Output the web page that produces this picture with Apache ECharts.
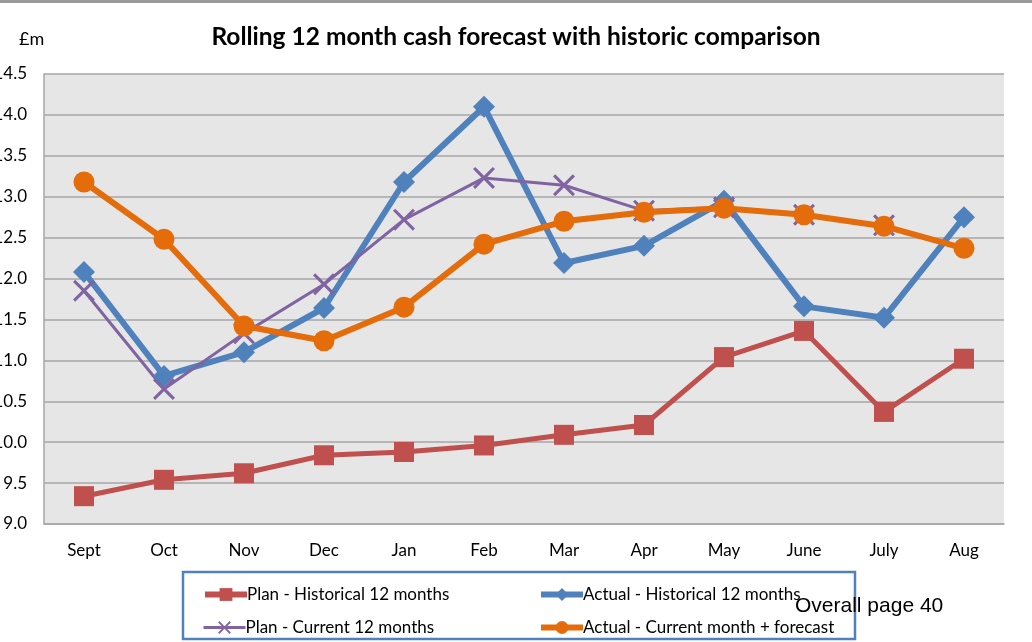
<!DOCTYPE html>
<html style="height: 100%">
<head>
    <meta charset="utf-8">
</head>
<body style="height: 100%; margin: 0; background-color: #fff">
<div id="container" style="height: 642px; width: 1032px"></div>
<script type="text/javascript" src="https://cdn.jsdelivr.net/npm/echarts@6/dist/echarts.min.js"></script>
<script type="text/javascript">
var months = ['Sept', 'Oct', 'Nov', 'Dec', 'Jan', 'Feb', 'Mar', 'Apr', 'May', 'June', 'July', 'Aug'];
var planHistorical = [9.34, 9.54, 9.62, 9.84, 9.88, 9.96, 10.09, 10.21, 11.04, 11.36, 10.37, 11.02];
var actualHistorical = [12.08, 10.81, 11.10, 11.64, 13.18, 14.10, 12.19, 12.40, 12.95, 11.66, 11.52, 12.75];
var planCurrent = [11.85, 10.65, 11.33, 11.93, 12.72, 13.23, 13.14, 12.83, 12.87, 12.78, 12.65, null];
var actualCurrent = [13.18, 12.48, 11.42, 11.24, 11.65, 12.42, 12.70, 12.81, 12.86, 12.78, 12.64, 12.37];
var seriesNames = ['Plan - Historical 12 months', 'Actual - Historical 12 months',
                   'Plan - Current 12 months', 'Actual - Current month + forecast'];

var dom = document.getElementById('container');
var myChart = echarts.init(dom);
var font = 'Lato, "Open Sans", sans-serif';
// X shaped marker as a filled path
var cross = 'path://M0,1 L1,0 L5,4 L9,0 L10,1 L6,5 L10,9 L9,10 L5,6 L1,10 L0,9 L4,5 Z';

function legendAt(name, left, top, lw) {
    return {
        data: [name],
        left: left,
        top: top,
        itemWidth: 42,
        itemHeight: 16,
        itemGap: 0,
        lineStyle: { width: lw },
        textStyle: { fontFamily: font, fontSize: 17, color: '#000', padding: [0, 0, 0, -5] }
    };
}

var option = {
    animation: false,
    title: {
        text: 'Rolling 12 month cash forecast with historic comparison',
        left: 'center',
        top: 20,
        textStyle: { fontFamily: font, fontSize: 24.5, fontWeight: 'bold', color: '#000' }
    },
    legend: [
        legendAt(seriesNames[0], 197, 581, 6),
        legendAt(seriesNames[1], 533, 581, 6),
        legendAt(seriesNames[2], 197, 614, 3),
        legendAt(seriesNames[3], 533, 614, 6)
    ],
    graphic: [
        { type: 'rect', shape: { x: 183, y: 572, width: 672, height: 67 },
          style: { fill: 'none', stroke: '#4F81BD', lineWidth: 2.5 }, z: 0 },
        { type: 'rect', shape: { x: 0, y: 0, width: 1032, height: 3 },
          style: { fill: '#9a9a9a' } },
        { type: 'text', left: 19, top: 30,
          style: { text: '£m', font: '18px ' + font, fill: '#000' } },
        { type: 'text', left: 795, top: 596, z: 100,
          style: { text: 'Overall page 40', font: '21px "Liberation Sans", Arial, sans-serif', fill: '#000' } }
    ],
    grid: {
        left: 44, right: 28, top: 74, bottom: 118,
        outerBoundsMode: 'none',
        containLabel: false,
        show: true, backgroundColor: '#E6E6E6', borderWidth: 0
    },
    xAxis: {
        type: 'category',
        data: months,
        boundaryGap: true,
        axisLine: { lineStyle: { color: '#A6A6A6', width: 1.5 } },
        axisTick: { show: false },
        axisLabel: { fontFamily: font, fontSize: 17, color: '#000', margin: 18 }
    },
    yAxis: {
        type: 'value',
        min: 9.0,
        max: 14.5,
        interval: 0.5,
        axisLine: { show: true, lineStyle: { color: '#A6A6A6', width: 1.5 } },
        axisTick: { show: false },
        splitLine: { lineStyle: { color: '#A6A6A6', width: 1.5 } },
        axisLabel: {
            fontFamily: font, fontSize: 17, color: '#000', margin: 17,
            formatter: function (v) { return v.toFixed(1); }
        }
    },
    series: [
        {
            name: seriesNames[0], type: 'line', data: planHistorical,
            symbol: 'rect', symbolSize: 20,
            lineStyle: { color: '#C0504D', width: 5 },
            itemStyle: { color: '#C0504D' }
        },
        {
            name: seriesNames[1], type: 'line', data: actualHistorical,
            symbol: 'diamond', symbolSize: [22, 22],
            lineStyle: { color: '#4F81BD', width: 6 },
            itemStyle: { color: '#4F81BD' }
        },
        {
            name: seriesNames[2], type: 'line', data: planCurrent,
            symbol: cross, symbolSize: 22,
            lineStyle: { color: '#8064A2', width: 3 },
            itemStyle: { color: '#8064A2' }
        },
        {
            name: seriesNames[3], type: 'line', data: actualCurrent,
            symbol: 'circle', symbolSize: 21,
            lineStyle: { color: '#E46C0A', width: 6 },
            itemStyle: { color: '#E46C0A' }
        }
    ]
};
if (option && typeof option === 'object') {
    myChart.setOption(option, true);
}
</script>
</body>
</html>
